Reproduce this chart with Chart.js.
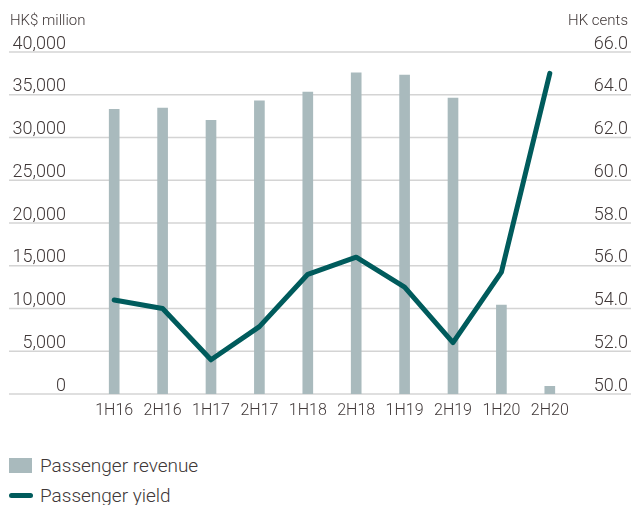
<!DOCTYPE html>
<html><head><meta charset="utf-8">
<script src="https://cdn.jsdelivr.net/npm/chart.js@4/dist/chart.umd.min.js"></script>
<style>
body{margin:0;background:#fff;font-family:Roboto,'Liberation Sans',sans-serif;color:#403838}
#wrap{position:relative;width:631px;height:505px;overflow:hidden}
canvas{position:absolute;left:0;top:0}
.unit{position:absolute;top:11px;font-size:15px;font-weight:300;line-height:18px}
#legend{position:absolute;left:9px;top:450px;font-size:19px;font-weight:300}
.li{display:flex;align-items:center;height:30px}
.sw{width:23px;height:15px;margin-right:8px}
.ln{width:24px;height:5px;border-radius:3px;margin-right:7px}
</style></head>
<body>
<div id="wrap">
<canvas id="c" width="631" height="430"></canvas>
<div class="unit" style="left:10px">HK$ million</div>
<div class="unit" style="right:3px">HK cents</div>
<div id="legend"></div>
</div>
<script>
const categories = ['1H16','2H16','1H17','2H17','1H18','2H18','1H19','2H19','1H20','2H20'];
const passengerRevenue = [33300,33450,32000,34300,35300,37550,37300,34600,10400,900];
const passengerYield = [54.4,54.0,51.6,53.15,55.6,56.4,55.0,52.4,55.7,65.0];
const revenueTicks = [0,5000,10000,15000,20000,25000,30000,35000,40000];
const yieldTicks = [50,52,54,56,58,60,62,64,66];

const barColor = '#a9babd';
const lineColor = '#005b5c';
const textColor = '#403838';
const fontFam = "Roboto, 'Liberation Sans', sans-serif";

const fullGrid = {
  id:'fullGrid',
  beforeDatasetsDraw(chart){
    const y = chart.scales.y, ctx = chart.ctx;
    ctx.save();
    ctx.strokeStyle = '#d4d4d4';
    ctx.lineWidth = 1.5;
    y.ticks.forEach((t,i)=>{
      const py = y.getPixelForTick(i);
      ctx.beginPath(); ctx.moveTo(9,py); ctx.lineTo(chart.width,py); ctx.stroke();
    });
    ctx.restore();
  }
};

const chart = new Chart(document.getElementById('c'), {
  data:{
    labels: categories,
    datasets:[
      {type:'line', label:'Passenger yield', data:passengerYield, yAxisID:'y1', order:0,
       borderColor:lineColor, backgroundColor:lineColor, borderWidth:5, tension:0,
       pointRadius:0, borderCapStyle:'round', borderJoinStyle:'round'},
      {type:'bar', label:'Passenger revenue', data:passengerRevenue, yAxisID:'y', order:1,
       backgroundColor:barColor, barThickness:10}
    ]
  },
  options:{
    responsive:false, animation:false, devicePixelRatio:1,
    layout:{padding:{left:9,right:3,top:52,bottom:0}},
    plugins:{legend:{display:false}, tooltip:{enabled:false}},
    scales:{
      x:{grid:{display:false, drawTicks:false}, border:{display:false},
         ticks:{color:textColor, padding:7, font:{family:fontFam, size:16, weight:300}, maxRotation:0},
         afterFit(s){ s.height = 36; }},
      y:{position:'left', min:0, max:40000,
         afterBuildTicks(s){ s.ticks = revenueTicks.map(v=>({value:v})); },
         grid:{display:false, drawTicks:false}, border:{display:false},
         ticks:{color:textColor, padding:24, labelOffset:-8, font:{family:fontFam, size:18, weight:300},
                callback:v=>v.toLocaleString('en-US')},
         afterFit(s){ s.width = 81; }},
      y1:{position:'right', min:50, max:66,
         afterBuildTicks(s){ s.ticks = yieldTicks.map(v=>({value:v})); },
         grid:{display:false, drawTicks:false}, border:{display:false},
         ticks:{color:textColor, padding:10, labelOffset:-8, crossAlign:'far', font:{family:fontFam, size:18, weight:300},
                callback:v=>v.toFixed(1)},
         afterFit(s){ s.width = 54; }}
    }
  },
  plugins:[fullGrid]
});

const lg = document.getElementById('legend');
[chart.data.datasets[1], chart.data.datasets[0]].forEach(ds=>{
  const d = document.createElement('div'); d.className='li';
  const m = document.createElement('span');
  m.className = ds.type==='bar' ? 'sw' : 'ln';
  m.style.background = ds.type==='bar' ? ds.backgroundColor : ds.borderColor;
  const t = document.createElement('span'); t.textContent = ds.label;
  d.appendChild(m); d.appendChild(t); lg.appendChild(d);
});
</script>
</body></html>
